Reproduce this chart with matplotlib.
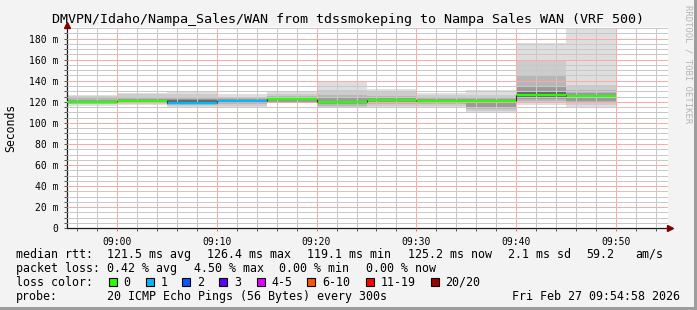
import datetime as dt
import matplotlib
matplotlib.use("Agg")
import matplotlib.pyplot as plt
import matplotlib.dates as mdates
from matplotlib.ticker import MultipleLocator, FuncFormatter
from matplotlib.patches import Rectangle

# 5 dakikalik adimlar (baslangic saatleri)
seg_start = ["08:55", "09:00", "09:05", "09:10", "09:15", "09:20",
             "09:25", "09:30", "09:35", "09:40", "09:45"]
median = [119.9, 120.6, 119.1, 121.2, 122.4, 120.2, 121.5, 121.2, 120.9, 126.4, 125.2]
loss_color = ["#26ff00", "#26ff00", "#00b8ff", "#00b8ff", "#26ff00", "#26ff00",
              "#26ff00", "#26ff00", "#26ff00", "#26ff00", "#26ff00"]

# duman katmanlari (dis -> ic)
outer_lo = [116.5, 117.4, 114.9, 115.0, 118.5, 113.9, 114.0, 115.5, 110.0, 117.0, 114.9]
outer_hi = [126.5, 128.7, 130.5, 127.5, 129.7, 139.2, 132.5, 128.2, 131.3, 175.6, 190.0]
l2_lo = [117.5, 118.0, 116.0, 116.5, 119.0, 115.0, 116.0, 116.5, 111.5, 119.0, 117.0]
l2_hi = [125.5, 127.0, 127.5, 125.0, 127.5, 131.0, 129.5, 126.5, 126.5, 159.5, 136.0]
l3_lo = [118.0, 118.5, 117.0, 117.5, 119.5, 116.5, 117.5, 117.5, 113.0, 121.0, 119.0]
l3_hi = [124.0, 124.5, 124.5, 123.5, 126.0, 126.5, 126.0, 125.0, 124.0, 145.5, 131.0]
l4_lo = [118.5, 119.0, 118.0, 119.0, 120.0, 117.5, 119.0, 118.5, 115.0, 122.5, 121.0]
l4_hi = [122.0, 123.0, 122.5, 122.5, 124.5, 123.5, 123.5, 123.0, 122.5, 135.0, 128.5]
core_lo = [119.3, 120.0, 119.0, 120.3, 121.5, 119.3, 120.5, 120.0, 118.5, 125.0, 123.5]
core_hi = [120.7, 121.5, 121.5, 121.8, 123.3, 121.2, 122.5, 122.0, 121.5, 129.0, 126.5]

legend_names = ["0", "1", "2", "3", "4-5", "6-10", "11-19", "20/20"]
legend_colors = ["#26ff00", "#00b8ff", "#0059ff", "#5e00ff", "#dd00ff",
                 "#ff5500", "#ff0000", "#a10000"]

W, H = 697, 310
MONO = "DejaVu Sans Mono"


def px(x, y):
    return x / W, 1 - y / H


fig = plt.figure(figsize=(W / 100, H / 100), dpi=100, facecolor="#f3f3f3")
x0, x1, y0, y1 = 67, 668, 228.3, 27
ax = fig.add_axes([x0 / W, 1 - y0 / H, (x1 - x0) / W, (y0 - y1) / H])
ax.set_facecolor("white")

gun = dt.datetime(2026, 2, 27)
xs = [mdates.date2num(gun.replace(hour=int(s[:2]), minute=int(s[3:]))) for s in seg_start]
w = 5 / 1440

katmanlar = [(outer_lo, outer_hi, "#dedede"), (l2_lo, l2_hi, "#cccccc"),
             (l3_lo, l3_hi, "#b6b6b6"), (l4_lo, l4_hi, "#9a9a9a"),
             (core_lo, core_hi, "#666666")]
for lo, hi, c in katmanlar:
    ax.bar(xs, [h - l for h, l in zip(hi, lo)], bottom=lo, width=w, align="edge",
           color=c, linewidth=0, zorder=1)

for i, x in enumerate(xs):
    ax.hlines(median[i], x, x + w, color=loss_color[i], lw=1.6, zorder=3)
    if i > 0:
        ax.vlines(x, median[i - 1], median[i], color="#333333", lw=0.8, zorder=3)

ax.set_xlim(mdates.date2num(gun.replace(hour=8, minute=55, second=2)),
            mdates.date2num(gun.replace(hour=9, minute=55, second=10)))
ax.set_ylim(0, 191)

ax.xaxis.set_major_locator(mdates.MinuteLocator(byminute=range(0, 60, 10)))
ax.xaxis.set_minor_locator(mdates.MinuteLocator(byminute=range(0, 60, 2)))
ax.xaxis.set_major_formatter(mdates.DateFormatter("%H:%M"))
ax.yaxis.set_major_locator(MultipleLocator(20))
ax.yaxis.set_minor_locator(MultipleLocator(5))
ax.yaxis.set_major_formatter(FuncFormatter(lambda v, p: "0" if v == 0 else f"{int(v)} m"))

ax.set_axisbelow(False)
ax.grid(which="minor", color="#c8c8c8", ls=(0, (1, 1)), lw=0.72, antialiased=False)
ax.grid(which="major", color="#ffa8a8", ls=(0, (1, 1)), lw=0.72, antialiased=False)

for s in ["top", "right"]:
    ax.spines[s].set_visible(False)
for s in ["left", "bottom"]:
    ax.spines[s].set_color("#1a1a1a")
    ax.spines[s].set_linewidth(0.9)
ax.tick_params(which="both", length=2, width=0.7, color="#555555", labelsize=7.05, pad=4)
ax.tick_params(axis="x", which="major", color="#ff6060")
for lab in ax.get_xticklabels() + ax.get_yticklabels():
    lab.set_fontfamily(MONO)

ax.plot([1.004], [0], marker=">", color="#7f0000", ms=4, clip_on=False,
        transform=ax.transAxes, zorder=5)
ax.plot([0], [1.01], marker="^", color="#7f0000", ms=4, clip_on=False,
        transform=ax.transAxes, zorder=5)

fig.text(*px(348, 19), "DMVPN/Idaho/Nampa_Sales/WAN from tdssmokeping to Nampa Sales WAN (VRF 500)",
         ha="center", va="center", fontsize=9.6, family=MONO)
fig.text(*px(11, 128), "Seconds", rotation=90, ha="center", va="center", fontsize=8.3, family=MONO)
fig.text(*px(688, 5), "RRDTOOL / TOBI OETIKER", rotation=270, ha="center", va="top",
         fontsize=6.4, family=MONO, color="#b5b5b5")

yl = [254.3, 268.3, 282.3, 296.3]
satir1 = [(16, "median rtt:"), (107.3, "121.5 ms avg"), (207.3, "126.4 ms max"),
          (307.3, "119.1 ms min"), (408.3, "125.2 ms now"), (507.7, "2.1 ms sd"),
          (586.7, "59.2"), (635.7, "am/s")]
satir2 = [(16, "packet loss:"), (107.3, "0.42 % avg"), (194, "4.50 % max"),
          (279, "0.00 % min"), (365.7, "0.00 % now")]
for x, t in satir1:
    fig.text(*px(x, yl[0]), t, ha="left", va="center", fontsize=8.35, family=MONO)
for x, t in satir2:
    fig.text(*px(x, yl[1]), t, ha="left", va="center", fontsize=8.35, family=MONO)

fig.text(*px(16, yl[2]), "loss color:", ha="left", va="center", fontsize=8.35, family=MONO)
kutu_x = [108.7, 145.7, 182.3, 219.3, 256.7, 307.3, 365.7, 430.7]
for bx, ad, c in zip(kutu_x, legend_names, legend_colors):
    fig.patches.append(Rectangle(px(bx, yl[2] + 4), 8 / W, 8 / H, transform=fig.transFigure,
                                 facecolor=c, edgecolor="black", lw=0.8))
    fig.text(*px(bx + 14.6, yl[2]), ad, ha="left", va="center", fontsize=8.35, family=MONO)

fig.text(*px(16, yl[3]), "probe:", ha="left", va="center", fontsize=8.35, family=MONO)
fig.text(*px(107.3, yl[3]), "20 ICMP Echo Pings (56 Bytes) every 300s", ha="left",
         va="center", fontsize=8.35, family=MONO)
fig.text(*px(680, yl[3]), "Fri Feb 27 09:54:58 2026", ha="right", va="center",
         fontsize=8.35, family=MONO)

# kenar golgeleri
fig.patches.append(Rectangle((1 - 3 / W, 0), 3 / W, 1, transform=fig.transFigure,
                             facecolor="#9d9d9d", lw=0))
fig.patches.append(Rectangle((0, 0), 1, 3 / H, transform=fig.transFigure,
                             facecolor="#9d9d9d", lw=0))

fig.savefig("out.png", dpi=100, facecolor=fig.get_facecolor())
